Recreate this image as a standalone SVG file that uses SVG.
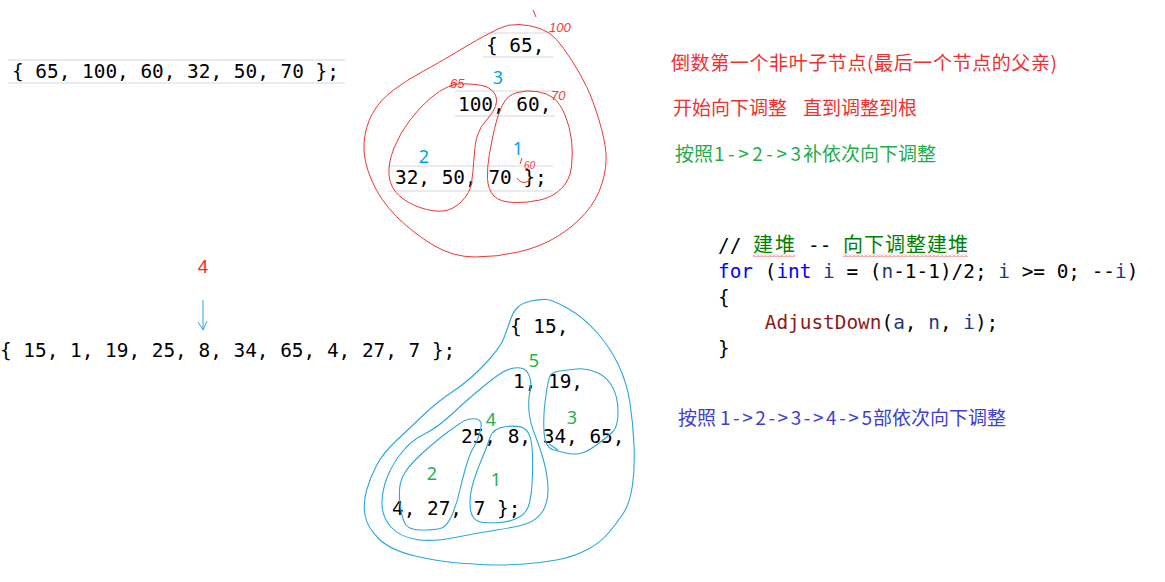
<svg xmlns="http://www.w3.org/2000/svg" width="1165" height="582" viewBox="0 0 1165 582">
<defs>
<style>
.mono{font-family:"DejaVu Sans Mono","Liberation Mono",monospace;font-size:19.4px;fill:#000}
.cjk{font-family:"Noto Sans CJK SC","Noto Sans",sans-serif;font-size:19px}
.num{font-family:"Noto Sans","Liberation Sans",sans-serif;font-size:18px;text-anchor:middle}
.scr{font-family:"Liberation Sans",sans-serif;font-size:13px;fill:#ef3a3a;font-style:italic}
.guide{stroke:#e4e4ea;stroke-width:1.6;fill:none}
.red{stroke:#ee3535;stroke-width:1;fill:none;stroke-linejoin:round}
.blue{stroke:#2aa6e0;stroke-width:1.1;fill:none;stroke-linejoin:round}
.kw{fill:#0000ff}
.var{fill:#1f377f}
.fn{fill:#8a1a1a}
</style>
<pattern id="wavy" width="4" height="3" patternUnits="userSpaceOnUse"><path d="M0,2.5 L2,0.5 L4,2.5" stroke="#e83030" stroke-width="0.8" fill="none"/></pattern>
</defs>
<rect width="1165" height="582" fill="#fff"/>

<g id="guides">
<line class="guide" x1="8" y1="60" x2="345" y2="60"/>
<line class="guide" x1="8" y1="83" x2="345" y2="83"/>
<line class="guide" x1="483" y1="33" x2="553" y2="33"/>
<line class="guide" x1="483" y1="57" x2="553" y2="57"/>
<line class="guide" x1="455" y1="91" x2="555" y2="91"/>
<line class="guide" x1="455" y1="116" x2="555" y2="116"/>
<line class="guide" x1="388" y1="166" x2="553" y2="166"/>
<line class="guide" x1="388" y1="191" x2="553" y2="191"/>
</g>

<g id="array1"><text class="mono" x="12" y="78" xml:space="preserve">{ 65, 100, 60, 32, 50, 70 };</text></g>

<g id="heap1">
<text class="mono" x="486" y="52" xml:space="preserve">{ 65,</text>
<text class="mono" x="458" y="111" xml:space="preserve">100, 60,</text>
<text class="mono" x="395" y="184" xml:space="preserve">32, 50, 70 };</text>
<path class="red" d="M519,24.5 Q530,25 540,28.5 Q550,32 556.5,39.5 Q563,47 571.5,60 Q580,73 586.5,86.5 Q593,100 599,120 Q605,140 606,153.5 Q607,167 602,183.5 Q597,200 585,213.5 Q573,227 556.5,237 Q540,247 518.5,252 Q497,257 475,257 Q453,257 433,245 Q413,233 396.5,216.5 Q380,200 371.5,180 Q363,160 364,143.5 Q365,127 372.5,113.5 Q380,100 393.5,90 Q407,80 423.5,71 Q440,62 450,56 Q460,50 468.5,45 Q477,40 483.5,36.5 Q490,33 499,28.5 Q508,24 519,24.5 Z"/>
<path class="red" d="M449,87 L457,83 M470,84 Q483,85 488,87.5 Q493,90 495.5,95 Q498,100 495.5,106.5 Q493,113 486.5,120 Q480,127 477.5,135 Q475,143 474,158 Q473,173 471.5,183 Q470,193 461.5,201.5 Q453,210 443,211 Q433,212 420,207.5 Q407,203 398.5,195 Q390,187 389,175 Q388,163 394,148 Q400,133 410,120 Q420,107 430,98.5 Q440,90 448.5,86.5 Q457,83 470,84 Z"/>
<path class="red" d="M517,92.5 Q527,90 537,91.5 Q547,93 553.5,98 Q560,103 565,115 Q570,127 571.5,140 Q573,153 571.5,166.5 Q570,180 561.5,188.5 Q553,197 540,200 Q527,203 513.5,202.5 Q500,202 494,196 Q488,190 487.5,178.5 Q487,167 489.5,153.5 Q492,140 494.5,128.5 Q497,117 502,106 Q507,95 517,92.5 Z"/>
<path class="red" d="M533,10 L536,17 M522,158 L520,164 M517,178 Q522,186 530,180"/>
<text class="scr" x="549" y="32">100</text>
<text class="scr" x="450" y="88">65</text>
<text class="scr" x="551" y="100">70</text>
<text class="scr" x="524" y="169" style="font-size:10px">60</text>
<text class="num" x="498" y="84" fill="#00a2e8">3</text>
<text class="num" x="424" y="163" fill="#00a2e8">2</text>
<text class="num" x="518" y="155" fill="#00a2e8">1</text>
</g>

<g id="notes">
<text class="cjk" x="671" y="70" fill="#ee3030" textLength="386" lengthAdjust="spacing">倒数第一个非叶子节点(最后一个节点的父亲)</text>
<text class="cjk" y="115" fill="#ee3030"><tspan x="673">开始向下调整</tspan><tspan x="803">直到调整到根</tspan></text>
<text class="cjk" y="161" fill="#1fab48"><tspan x="675">按照</tspan><tspan x="714" textLength="87" lengthAdjust="spacing">1-&gt;2-&gt;3</tspan><tspan x="803">补依次向下调整</tspan></text>
<text class="cjk" y="425" fill="#4040d0"><tspan x="678">按照</tspan><tspan x="720" textLength="152" lengthAdjust="spacing">1-&gt;2-&gt;3-&gt;4-&gt;5</tspan><tspan x="873">部依次向下调整</tspan></text>
</g>

<g id="code">
<text class="mono" y="252" fill="#008000" xml:space="preserve"><tspan x="718">//</tspan><tspan x="753" class="cjk" style="font-size:20px" fill="#008000" textLength="42">建堆</tspan><tspan x="808">--</tspan><tspan x="843" class="cjk" style="font-size:20px" fill="#008000" textLength="125">向下调整建堆</tspan></text>
<rect x="753" y="254" width="42" height="3" fill="url(#wavy)"/>
<rect x="843" y="254" width="125" height="3" fill="url(#wavy)"/>
<text class="mono" x="718" y="278" xml:space="preserve"><tspan class="kw">for</tspan> (<tspan class="kw">int</tspan> <tspan class="var">i</tspan> = (<tspan class="var">n</tspan>-1-1)/2; <tspan class="var">i</tspan> &gt;= 0; --<tspan class="var">i</tspan>)</text>
<text class="mono" x="718" y="304" xml:space="preserve">{</text>
<text class="mono" x="718" y="329" xml:space="preserve">    <tspan class="fn">AdjustDown</tspan>(<tspan class="var">a</tspan>, <tspan class="var">n</tspan>, <tspan class="var">i</tspan>);</text>
<text class="mono" x="718" y="355" xml:space="preserve">}</text>
</g>

<g id="array2">
<text class="num" x="203" y="273" fill="#ee2a2a">4</text>
<path d="M203,300 L203,330 M198,322 L203,330 L207,321" stroke="#2aa6e0" stroke-width="1" fill="none"/>
<text class="mono" x="0" y="357" xml:space="preserve">{ 15, 1, 19, 25, 8, 34, 65, 4, 27, 7 };</text>
</g>

<g id="heap2">
<text class="mono" x="510" y="333" xml:space="preserve">{ 15,</text>
<text class="mono" x="513" y="388" xml:space="preserve">1, 19,</text>
<text class="mono" x="461" y="443" xml:space="preserve">25, 8, 34, 65,</text>
<text class="mono" x="392" y="515" xml:space="preserve">4, 27, 7 };</text>
<path class="blue" d="M531,301 Q540,299 546.5,299.5 Q553,300 568,308.5 Q583,317 596.5,332 Q610,347 618.5,365 Q627,383 630,403 Q633,423 634,445 Q635,467 632.5,485 Q630,503 623.5,513 Q617,523 608.5,533 Q600,543 586.5,550 Q573,557 556.5,560 Q540,563 523.5,564 Q507,565 498.5,565 Q490,565 465,563.5 Q440,562 415,556 Q390,550 378.5,538.5 Q367,527 365,515 Q363,503 366.5,490.5 Q370,478 376.5,465.5 Q383,453 396.5,440.5 Q410,428 423.5,415 Q437,402 453.5,391 Q470,380 485,364 Q500,348 503.5,339 Q507,330 510,321 Q513,312 517.5,307.5 Q522,303 531,301 Z"/>
<path class="blue" d="M511.5,368.5 Q518,367 522.5,368.5 Q527,370 529.5,376.5 Q532,383 530,391.5 Q528,400 529,411.5 Q530,423 535,435 Q540,447 544,462 Q548,477 548,490 Q548,503 542.5,511.5 Q537,520 527,523.5 Q517,527 497,530 Q477,533 455,537.5 Q433,542 416.5,539.5 Q400,537 391,527 Q382,517 382,503.5 Q382,490 387.5,476.5 Q393,463 402.5,451.5 Q412,440 424.5,434 Q437,428 452,414 Q467,400 478.5,390.5 Q490,381 497.5,375.5 Q505,370 511.5,368.5 Z"/>
<path class="blue" d="M476.5,419 Q483,420 480.5,430 Q478,440 474,446.5 Q470,453 466,466.5 Q462,480 459.5,491.5 Q457,503 452,515 Q447,527 440,528.5 Q433,530 421.5,530 Q410,530 406,525 Q402,520 400,503.5 Q398,487 402.5,477 Q407,467 422,453.5 Q437,440 448.5,431.5 Q460,423 465,420.5 Q470,418 476.5,419 Z"/>
<path class="blue" d="M506.5,426.5 Q520,425 525,429 Q530,433 531.5,443 Q533,453 532.5,473 Q532,493 529.5,503 Q527,513 518.5,517.5 Q510,522 500,522.5 Q490,523 483.5,522.5 Q477,522 473.5,517.5 Q470,513 470,503 Q470,493 473.5,481.5 Q477,470 482,458.5 Q487,447 490,437.5 Q493,428 506.5,426.5 Z"/>
<path class="blue" d="M559.5,371 Q567,370 577,369 Q587,368 597,372.5 Q607,377 612.5,387 Q618,397 618,412 Q618,427 612.5,432 Q607,437 598.5,443.5 Q590,450 583.5,452.5 Q577,455 568.5,453.5 Q560,452 552.5,449.5 Q545,447 544,432 Q543,417 545.5,398.5 Q548,380 550,376 Q552,372 559.5,371 Z M558,450 L549,444"/>
<text class="num" x="534" y="367" fill="#22b14c">5</text>
<text class="num" x="491" y="426" fill="#22b14c">4</text>
<text class="num" x="572" y="424" fill="#22b14c">3</text>
<text class="num" x="432" y="480" fill="#22b14c">2</text>
<text class="num" x="496" y="486" fill="#22b14c">1</text>
</g>
</svg>
